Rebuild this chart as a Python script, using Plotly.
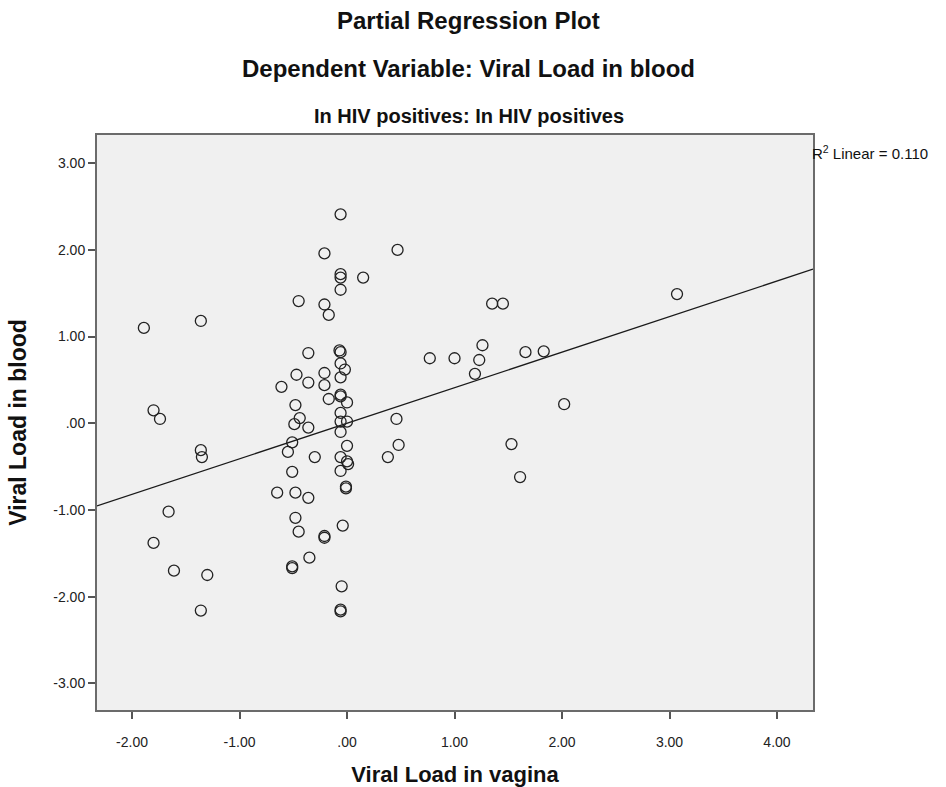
import plotly.graph_objects as go

# Partial residuals: viral load in vagina (x) vs viral load in blood (y)
vagina = [
    -0.06, -0.21, -0.06, -0.06, 0.15, -0.06, -0.45, -0.21, -0.17, -1.36,
    0.47, 1.35, 1.45, 3.07, -1.89, -0.36, -0.07, -0.06, -0.06, -0.02,
    -0.47, -0.21, -0.06, -0.61, -0.36, -0.21, -0.17, -0.06, -0.06, 0.00,
    -0.48, -0.06, -0.06, 0.00, -0.06, -0.44, -0.49, -0.36, -1.80, -1.74,
    -1.36, -1.35, -0.51, -0.55, 0.00, -0.30, -0.06, 0.00, 0.01, -0.06,
    -0.51, -0.01, -0.01, 0.38, -0.65, -0.48, -0.36, 0.77, 1.00, 1.26,
    1.23, 1.19, 0.46, 0.48, 1.66, 1.83, 2.02, 1.53, 1.61, -1.66,
    -0.48, -0.45, -0.21, -0.21, -0.04, -1.80, -0.35, -0.51, -0.51, -1.61,
    -1.30, -0.05, -1.36, -0.06, -0.06,
]
blood = [
    2.41, 1.96, 1.72, 1.68, 1.68, 1.54, 1.41, 1.37, 1.25, 1.18,
    2.00, 1.38, 1.38, 1.49, 1.10, 0.81, 0.84, 0.82, 0.69, 0.62,
    0.56, 0.58, 0.53, 0.42, 0.47, 0.44, 0.28, 0.33, 0.31, 0.24,
    0.21, 0.12, 0.02, 0.02, -0.10, 0.06, -0.01, -0.05, 0.15, 0.05,
    -0.31, -0.39, -0.22, -0.33, -0.26, -0.39, -0.39, -0.44, -0.47, -0.55,
    -0.56, -0.73, -0.75, -0.39, -0.80, -0.80, -0.86, 0.75, 0.75, 0.90,
    0.73, 0.57, 0.05, -0.25, 0.82, 0.83, 0.22, -0.24, -0.62, -1.02,
    -1.09, -1.25, -1.30, -1.32, -1.18, -1.38, -1.55, -1.65, -1.67, -1.70,
    -1.75, -1.88, -2.16, -2.15, -2.17,
]

# Linear fit through the partial residuals
fit_slope = 0.41
fit_intercept = 0.0
r_squared = 0.110

x_range = [-2.326, 4.335]
y_range = [-3.307, 3.325]

x_ticks = [-2, -1, 0, 1, 2, 3, 4]
x_tick_labels = ["-2.00", "-1.00", ".00", "1.00", "2.00", "3.00", "4.00"]
y_ticks = [-3, -2, -1, 0, 1, 2, 3]
y_tick_labels = ["-3.00", "-2.00", "-1.00", ".00", "1.00", "2.00", "3.00"]

FONT = "Arial, Liberation Sans, sans-serif"

fig = go.Figure()

fit_x = list(x_range)
fit_y = [fit_intercept + fit_slope * v for v in fit_x]
fig.add_trace(go.Scatter(
    x=fit_x, y=fit_y, mode="lines",
    line=dict(color="#1a1a1a", width=1.3),
    hoverinfo="skip", showlegend=False,
))

fig.add_trace(go.Scatter(
    x=vagina, y=blood, mode="markers",
    marker=dict(symbol="circle-open", size=11, color="#222222",
                line=dict(width=1.3, color="#222222")),
    showlegend=False,
))

axis_common = dict(
    showgrid=False, zeroline=False, automargin=False,
    showline=True, linecolor="#6b6b6b", linewidth=2, mirror=True,
    ticks="outside", ticklen=7, tickwidth=1.5, tickcolor="#555555",
    tickfont=dict(family=FONT, size=14, color="#222222"),
)

fig.update_xaxes(
    range=x_range, tickvals=x_ticks, ticktext=x_tick_labels,
    ticklabelstandoff=11,
    title=dict(text="<b>Viral Load in vagina</b>",
               font=dict(family=FONT, size=22, color="#111111"), standoff=20),
    **axis_common,
)
fig.update_yaxes(
    range=y_range, tickvals=y_ticks, ticktext=y_tick_labels,
    title=dict(text="<b>Viral Load in blood</b>",
               font=dict(family=FONT, size=23, color="#111111"), standoff=20),
    **axis_common,
)

titles = [
    ("<b>Partial Regression Plot</b>", 24, 1.199),
    ("<b>Dependent Variable: Viral Load in blood</b>", 24, 1.115),
    ("<b>In HIV positives: In HIV positives</b>", 20, 1.033),
]
for text, size, ypos in titles:
    fig.add_annotation(
        text=text, xref="paper", yref="paper", x=0.519, y=ypos,
        xanchor="center", yanchor="middle", showarrow=False,
        font=dict(family=FONT, size=size, color="#111111"),
    )

fig.add_annotation(
    text=f"R<sup>2</sup> Linear = {r_squared:.3f}",
    xref="paper", yref="paper", x=1.0, y=0.99,
    xanchor="left", yanchor="top", showarrow=False, xshift=-3,
    font=dict(family=FONT, size=15, color="#111111"),
)

fig.update_layout(
    width=946, height=787,
    margin=dict(l=97, r=133, t=135, b=77),
    paper_bgcolor="white", plot_bgcolor="#f0f0f0",
    font=dict(family=FONT),
)

fig.write_html("out.html")
